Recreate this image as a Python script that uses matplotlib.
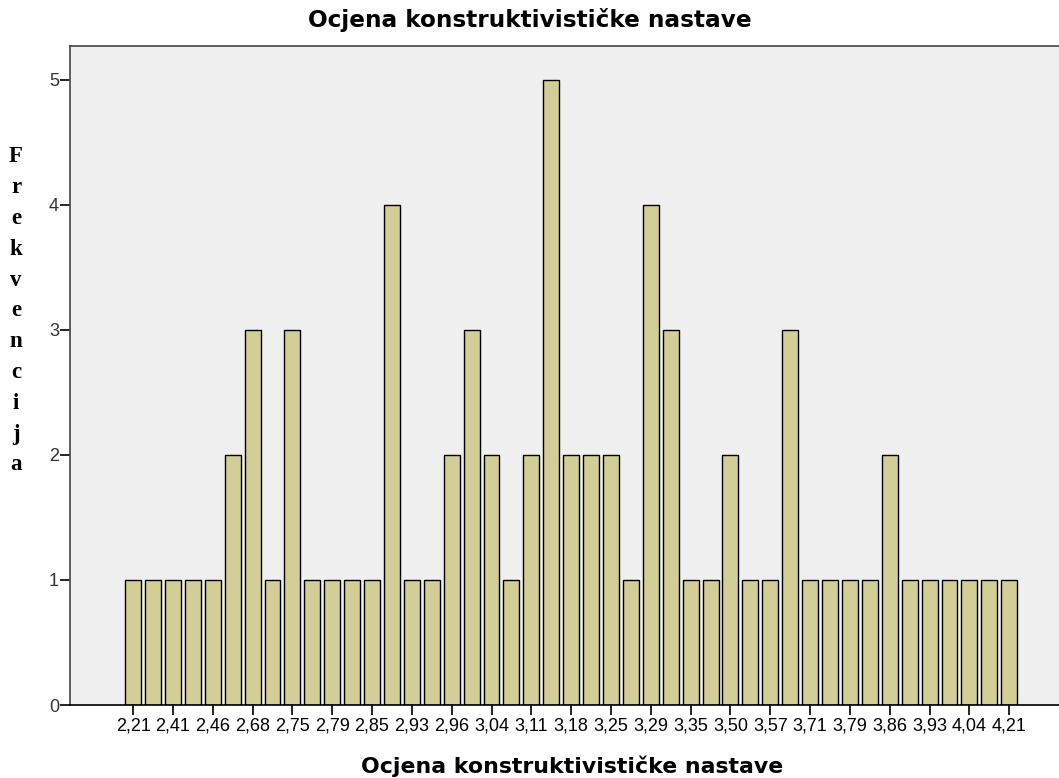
import matplotlib
matplotlib.use("Agg")
import matplotlib.pyplot as plt

# frequency of each distinct score (45 distinct values)
counts = [1, 1, 1, 1, 1, 2, 3, 1, 3, 1,
          1, 1, 1, 4, 1, 1, 2, 3, 2, 1,
          2, 5, 2, 2, 2, 1, 4, 3, 1, 1,
          2, 1, 1, 3, 1, 1, 1, 1, 2, 1,
          1, 1, 1, 1, 1]

# only every second value is labelled on the x axis
tick_labels = ["2,21", "2,41", "2,46", "2,68", "2,75", "2,79", "2,85", "2,93",
               "2,96", "3,04", "3,11", "3,18", "3,25", "3,29", "3,35", "3,50",
               "3,57", "3,71", "3,79", "3,86", "3,93", "4,04", "4,21"]

title = "Ocjena konstruktivističke nastave"
ylabel = "Frekvencija"

fig = plt.figure(figsize=(10.59, 7.78), dpi=100)
ax = fig.add_axes([70 / 1059, 1 - 705 / 778, 1 - 70 / 1059, (705 - 46) / 778])
ax.set_facecolor("#F0F0F0")

x = list(range(len(counts)))
ax.bar(x, counts, width=0.8, color="#D3CE97", edgecolor="black", linewidth=1.0)

ax.set_xlim(-3.17, 46.5)
ax.set_ylim(0, 5.27)

ax.set_yticks(range(0, 6))
ax.set_xticks(x[::2])
ax.set_xticklabels(tick_labels)
for lbl in ax.get_xticklabels() + ax.get_yticklabels():
    lbl.set_family("Liberation Sans")
ax.tick_params(axis="x", length=7, width=1.2, labelsize=13, pad=2, colors="black")
ax.tick_params(axis="y", length=7, width=1.2, labelsize=13, pad=1, colors="black",
               labelcolor="#333333")

for side in ["top", "left"]:
    ax.spines[side].set_color("#444444")
    ax.spines[side].set_linewidth(1.2)
ax.spines["bottom"].set_color("black")
ax.spines["bottom"].set_linewidth(1.2)
ax.spines["right"].set_visible(False)

fig.text(530 / 1059, 1 - 20 / 778, title, ha="center", va="center",
         fontsize=16.7, fontweight="bold")
fig.text(572 / 1059, 1 - 766 / 778, title, ha="center", va="center",
         fontsize=15.8, fontweight="bold")

# vertical stacked y label, one letter per line
for i, ch in enumerate(ylabel):
    fig.text(16 / 1059, 1 - (157 + i * 30.8) / 778, ch, ha="center", va="center",
             fontsize=16.5, fontweight="bold", family="Liberation Serif")

fig.savefig("out.png", dpi=100)
